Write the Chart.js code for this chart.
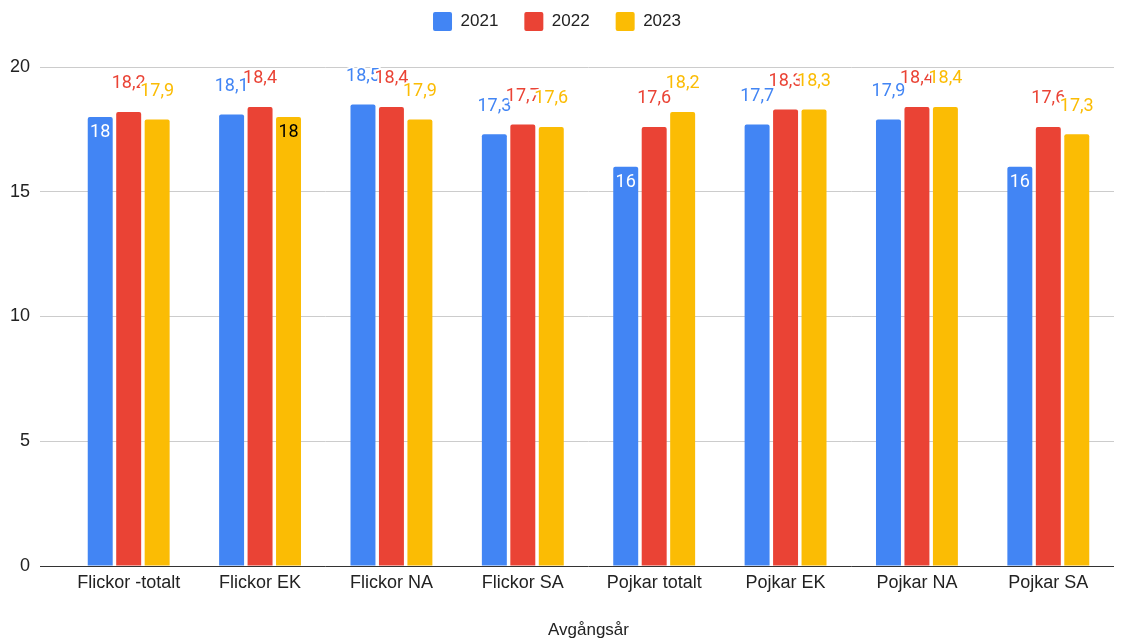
<!DOCTYPE html>
<html>
<head>
<meta charset="utf-8">
<script src="https://cdn.jsdelivr.net/npm/chart.js@4/dist/chart.umd.min.js"></script>
<style>
  html, body { margin: 0; padding: 0; background: #fff; }
  #wrap { width: 1127px; height: 641px; }
</style>
</head>
<body>
<div id="wrap"><canvas id="chart" width="1127" height="641"></canvas></div>
<script>
'use strict';

// ── DATA ──────────────────────────────────────────────────────
const categories = ['Flickor -totalt', 'Flickor EK', 'Flickor NA', 'Flickor SA',
                    'Pojkar totalt', 'Pojkar EK', 'Pojkar NA', 'Pojkar SA'];
const years   = ['2021', '2022', '2023'];
const vals2021 = [18,   18.1, 18.5, 17.3, 16,   17.7, 17.9, 16];
const vals2022 = [18.2, 18.4, 18.4, 17.7, 17.6, 18.3, 18.4, 17.6];
const vals2023 = [17.9, 18,   17.9, 17.6, 18.2, 18.3, 18.4, 17.3];
const yTicks  = [0, 5, 10, 15, 20];
const xTitle  = 'Avgångsår';

const COLORS = ['#4285F4', '#EA4335', '#FBBC04'];
const AXIS_FONT = "'Liberation Sans', Arial, sans-serif";

// ── DATA LABELS (Sheets style) ────────────────────────────────
const valueLabels = {
  id: 'valueLabels',
  afterDatasetsDraw(chart) {
    const ctx = chart.ctx;
    ctx.save();
    ctx.font = "18px Roboto, sans-serif";
    ctx.textAlign = 'center';
    ctx.textBaseline = 'middle';
    ctx.lineJoin = 'round';
    chart.data.datasets.forEach((ds, di) => {
      const meta = chart.getDatasetMeta(di);
      meta.data.forEach((bar, i) => {
        const v = ds.data[i];
        const txt = String(v).replace('.', ',');
        if (Number.isInteger(v)) {
          // short labels sit inside the bar
          ctx.fillStyle = di === 2 ? '#000' : '#fff';
          ctx.fillText(txt, bar.x, bar.y + 16);
        } else {
          ctx.strokeStyle = '#fff';
          ctx.lineWidth = 4;
          ctx.strokeText(txt, bar.x, bar.y - 28);
          ctx.fillStyle = ds.backgroundColor;
          ctx.fillText(txt, bar.x, bar.y - 28);
        }
      });
    });
    ctx.restore();
  },
};

// leave room under the legend for the labels above the bars
const legendGap = {
  id: 'legendGap',
  beforeInit(chart) {
    const fit = chart.legend.fit;
    chart.legend.fit = function () {
      fit.call(this);
      this.height = 81;
    };
  },
};

// ── CHART ─────────────────────────────────────────────────────
new Chart(document.getElementById('chart'), {
  type: 'bar',
  data: {
    labels: categories,
    datasets: [vals2021, vals2022, vals2023].map((d, i) => ({
      label: years[i],
      data: d,
      backgroundColor: COLORS[i],
      borderRadius: 2,
      borderSkipped: 'bottom',
      barPercentage: 0.877,
      categoryPercentage: 0.65,
    })),
  },
  options: {
    responsive: false,
    animation: false,
    layout: { padding: { left: 0, right: 13, top: -14, bottom: 0 } },
    plugins: {
      legend: {
        position: 'top',
        labels: {
          font: { family: AXIS_FONT, size: 17 },
          color: '#222',
          boxWidth: 19,
          boxHeight: 19,
          useBorderRadius: true,
          borderRadius: 2,
          padding: 26,
        },
      },
      tooltip: { enabled: false },
    },
    scales: {
      x: {
        grid: { display: false, drawTicks: false },
        border: { display: false },
        ticks: { font: { family: AXIS_FONT, size: 18 }, color: '#222', padding: 6, maxRotation: 0 },
        title: {
          display: true,
          text: xTitle,
          font: { family: AXIS_FONT, size: 17 },
          color: '#222',
          padding: { top: 26, bottom: 0 },
        },
        afterFit(s) { s.height = 75; },
      },
      y: {
        min: 0,
        max: 20,
        afterBuildTicks(s) { s.ticks = yTicks.map(v => ({ value: v })); },
        grid: {
          color: c => (c.tick && c.tick.value === 0 ? '#333333' : '#cccccc'),
          drawTicks: true,
          tickLength: 23,
        },
        border: { display: false },
        ticks: { font: { family: AXIS_FONT, size: 18 }, color: '#222', padding: 10 },
        afterFit(s) { s.width = 63; },
      },
    },
  },
  plugins: [legendGap, valueLabels],
});
</script>
</body>
</html>
